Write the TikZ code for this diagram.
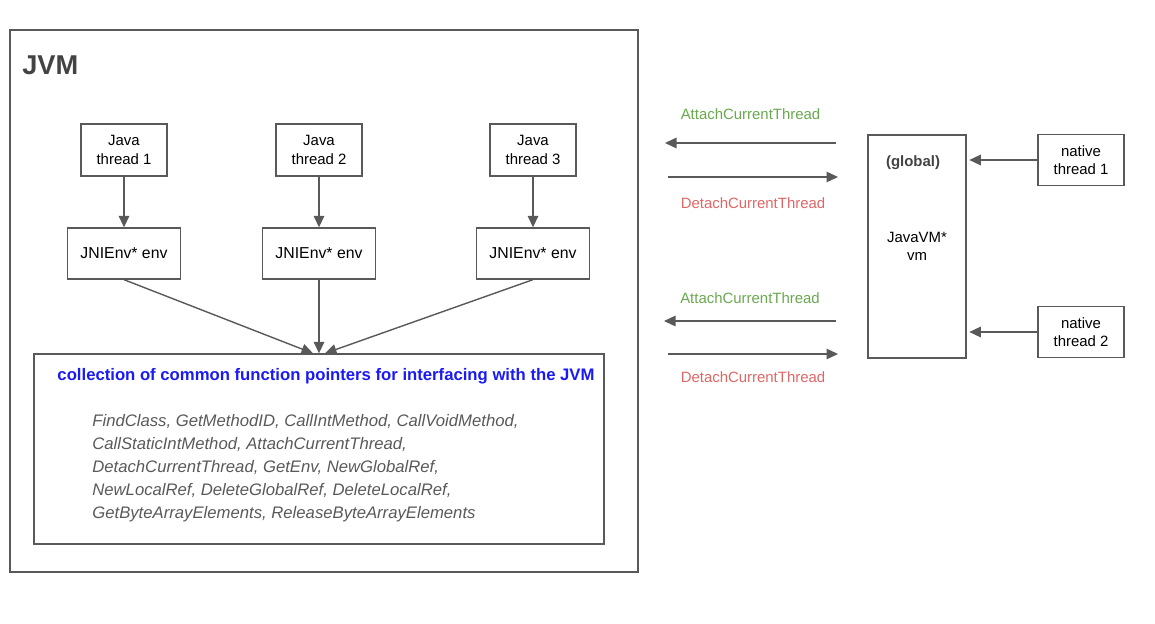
\documentclass[tikz,border=0pt]{standalone}
\usepackage{fontspec}
\setmainfont{Liberation Sans}
\usetikzlibrary{positioning,arrows.meta}
\definecolor{linegray}{HTML}{595959}
\definecolor{textgray}{HTML}{434343}
\definecolor{attachgreen}{HTML}{6AA84F}
\definecolor{detachred}{HTML}{E06666}
\definecolor{ptrblue}{HTML}{1A1AF5}
\tikzset{
  flowarrow/.style={-{Triangle[length=2.3mm, width=2.1mm]}, line width=0.8pt, draw=linegray},
  threadbox/.style={draw=linegray, line width=0.75pt, minimum width=1.72cm, minimum height=1.04cm, align=center, inner sep=1pt},
  envbox/.style={draw=linegray, line width=0.75pt, minimum width=2.26cm, minimum height=1.02cm, align=center, inner sep=1pt, font=\fontsize{9}{10.4}\selectfont},
  framebox/.style={draw=linegray, line width=0.75pt, inner sep=0pt, align=center},
  attachlabel/.style={text=attachgreen, inner sep=1pt},
  detachlabel/.style={text=detachred, inner sep=1pt}
}

\begin{document}
\begin{tikzpicture}[every node/.style={font=\fontsize{8.5}{10.4}\selectfont}]
  \useasboundingbox (0,0) rectangle (23.1,12.46);
  % JVM side
  \node[framebox, minimum width=12.56cm, minimum height=10.84cm] (jvm) at (6.48,6.44) {};
  \node[anchor=west, inner sep=0pt, text=textgray, font=\fontsize{15.5}{17}\selectfont\bfseries] (jvmlabel) at (0.44,11.16) {JVM};
  \node[threadbox] (t1) at (2.48,9.46) {Java\\ thread 1};
  \node[threadbox] (t2) at (6.38,9.46) {Java\\ thread 2};
  \node[threadbox] (t3) at (10.66,9.46) {Java\\ thread 3};
  \node[envbox] (e1) at (2.48,7.39) {JNIEnv* env};
  \node[envbox] (e2) at (6.38,7.39) {JNIEnv* env};
  \node[envbox] (e3) at (10.66,7.39) {JNIEnv* env};
  \node[framebox, minimum width=11.4cm, minimum height=3.8cm] (coll) at (6.38,3.48) {};
  \node[inner sep=0pt, text=ptrblue, font=\fontsize{9.5}{11}\selectfont\bfseries] (colltitle) at (6.52,4.94)
    {collection of common function pointers for interfacing with the JVM};
  \node[anchor=west, inner sep=0pt, align=left, text=linegray, font=\fontsize{9.5}{13}\selectfont\itshape] (funcs) at (1.84,3.10)
    {FindClass, GetMethodID, CallIntMethod, CallVoidMethod,\\
     CallStaticIntMethod, AttachCurrentThread,\\
     DetachCurrentThread, GetEnv, NewGlobalRef,\\
     NewLocalRef, DeleteGlobalRef, DeleteLocalRef,\\
     GetByteArrayElements, ReleaseByteArrayElements};
  \draw[flowarrow] (t1) -- (e1);
  \draw[flowarrow] (t2) -- (e2);
  \draw[flowarrow] (t3) -- (e3);
  \draw[flowarrow] (e1.south) -- ([xshift=-0.12cm]coll.north);
  \draw[flowarrow] (e2.south) -- (coll.north);
  \draw[flowarrow] (e3.south) -- ([xshift=0.12cm]coll.north);

  % native side
  \node[framebox, minimum width=1.96cm, minimum height=4.46cm] (vm) at (18.34,7.53) {JavaVM*\\ vm};
  \node[text=textgray, font=\fontsize{8.5}{10.4}\selectfont\bfseries] (global) at (18.26,9.2) {(global)};
  \node[threadbox, minimum height=1.02cm] (n1) at (21.62,9.26) {native\\ thread 1};
  \node[threadbox, minimum height=1.02cm] (n2) at (21.62,5.82) {native\\ thread 2};
  \draw[flowarrow, shorten >=1.5pt] (n1.west) -- (n1.west -| vm.east);
  \draw[flowarrow, shorten >=1.5pt] (n2.west) -- (n2.west -| vm.east);

  \coordinate (attA) at (16.72,9.6);
  \coordinate (attB) at (13.3,9.6);
  \coordinate (detA) at (13.36,8.92);
  \coordinate (detB) at (16.76,8.92);
  \coordinate (attC) at (16.72,6.04);
  \coordinate (attD) at (13.28,6.04);
  \coordinate (detC) at (13.36,5.38);
  \coordinate (detD) at (16.76,5.38);
  \draw[flowarrow] (attA) -- node[attachlabel, midway, yshift=0.58cm] {AttachCurrentThread} (attB);
  \draw[flowarrow] (detA) -- node[detachlabel, midway, yshift=-0.52cm] {DetachCurrentThread} (detB);
  \draw[flowarrow] (attC) -- node[attachlabel, midway, yshift=0.46cm] {AttachCurrentThread} (attD);
  \draw[flowarrow] (detC) -- node[detachlabel, midway, yshift=-0.46cm] {DetachCurrentThread} (detD);
\end{tikzpicture}
\end{document}
